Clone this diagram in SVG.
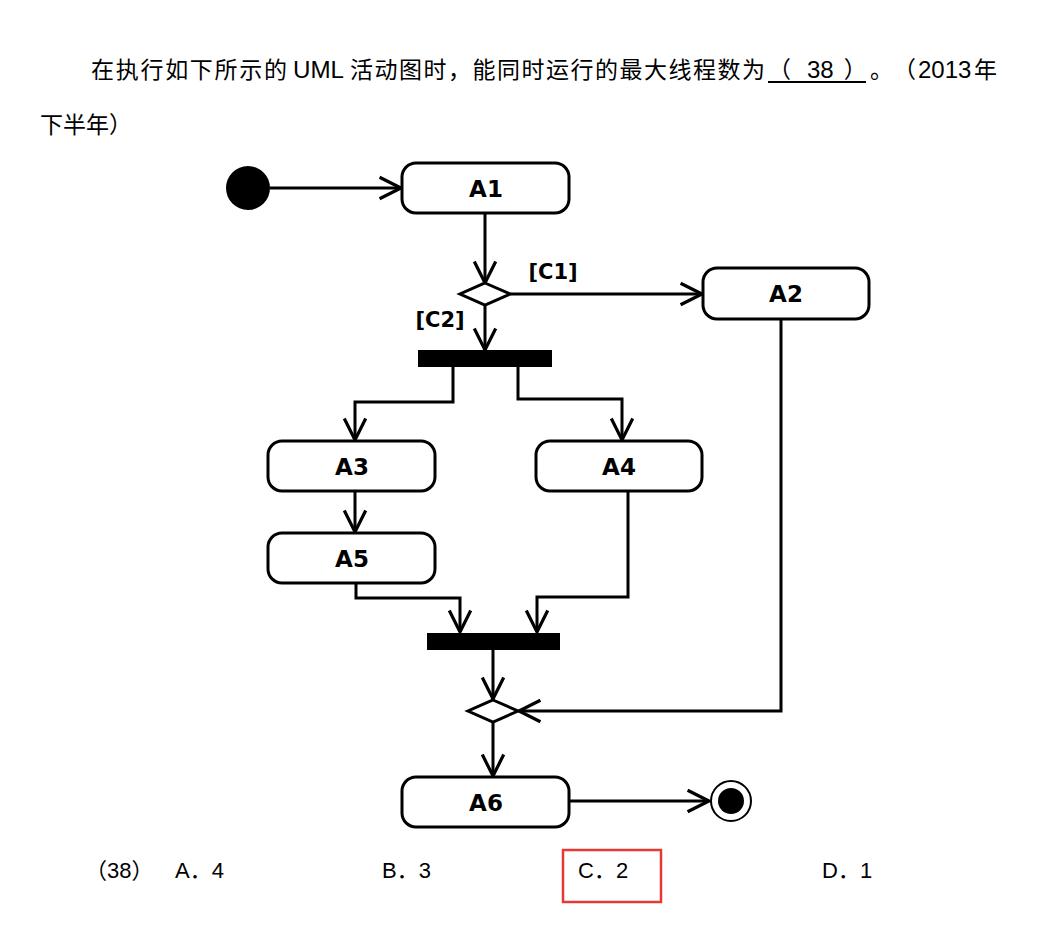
<svg xmlns="http://www.w3.org/2000/svg" width="1060" height="931" viewBox="0 0 1060 931">
<style>
.t{font-family:"Liberation Sans","Noto Sans CJK SC",sans-serif;font-size:22px;fill:#000}
.h{font-family:"Noto Sans CJK SC",sans-serif;font-size:23px;fill:#000}
.hl{font-family:"Liberation Sans",sans-serif;font-size:24px;fill:#000}
.node{fill:#fff;stroke:#000;stroke-width:3}
.lbl{font-family:"DejaVu Sans","Liberation Sans",sans-serif;font-size:23px;font-weight:bold;fill:#000;text-anchor:middle}
.g{font-family:"DejaVu Sans","Liberation Sans",sans-serif;font-size:21px;font-weight:bold;fill:#000;text-anchor:middle}
.c{fill:none;stroke:#000;stroke-width:3;marker-end:url(#arr)}
.bar{fill:#000}
</style>
<defs>
<marker id="arr" markerUnits="userSpaceOnUse" markerWidth="30" markerHeight="30" viewBox="-24 -14 28 28" refX="0" refY="0" orient="auto">
<path d="M-20,-10 L0,0 L-20,10" fill="none" stroke="#000" stroke-width="3"/>
</marker>
</defs>
<rect width="1060" height="931" fill="#fff"/>
<g id="question">
<text class="h" x="91" y="78"><tspan textLength="196" lengthAdjust="spacing">在执行如下所示的</tspan><tspan class="hl" x="293" textLength="51" lengthAdjust="spacingAndGlyphs">UML</tspan><tspan x="350" textLength="415" lengthAdjust="spacing">活动图时，能同时运行的最大线程数为</tspan><tspan x="768">（</tspan><tspan class="hl" dx="16">38</tspan><tspan dx="10">）</tspan><tspan x="870">。</tspan><tspan x="893">（</tspan><tspan class="hl" x="918">2013</tspan><tspan x="974">年</tspan></text>
<line x1="768" y1="82" x2="866" y2="82" stroke="#000" stroke-width="2"/>
<text class="h" x="40" y="133">下半年）</text>
</g>
<g id="connectors">
<line class="c" x1="270" y1="188" x2="401" y2="188"/>
<line class="c" x1="485" y1="213" x2="485" y2="283"/>
<line class="c" x1="510" y1="294" x2="702" y2="294"/>
<line class="c" x1="485" y1="305" x2="485" y2="350"/>
<polyline class="c" points="453,367 453,402 355,402 355,440"/>
<polyline class="c" points="518,367 518,399 622,399 622,440"/>
<line class="c" x1="355" y1="491" x2="355" y2="532"/>
<polyline class="c" points="356,583 356,598 460,598 460,632"/>
<polyline class="c" points="628,491 628,597 537,597 537,632"/>
<line class="c" x1="493" y1="650" x2="493" y2="699"/>
<polyline class="c" points="781,319 781,711 519,711"/>
<line class="c" x1="493" y1="722" x2="493" y2="776"/>
<line class="c" x1="569" y1="801" x2="709" y2="801"/>
<text class="g" x="553" y="279">[C1]</text>
<text class="g" x="440" y="327">[C2]</text>
</g>
<g id="start"><circle cx="248" cy="188" r="22" fill="#000"/></g>
<g id="A1"><rect class="node" x="402" y="163" width="167" height="50" rx="14"/><text class="lbl" x="486" y="197">A1</text></g>
<g id="decision1"><polygon class="node" points="485,283 510,294 485,305 460,294"/></g>
<g id="A2"><rect class="node" x="703" y="268" width="166" height="51" rx="14"/><text class="lbl" x="786" y="302">A2</text></g>
<g id="fork"><rect class="bar" x="418" y="350" width="134" height="17"/></g>
<g id="A3"><rect class="node" x="268" y="441" width="167" height="50" rx="14"/><text class="lbl" x="352" y="475">A3</text></g>
<g id="A4"><rect class="node" x="536" y="441" width="166" height="50" rx="14"/><text class="lbl" x="619" y="475">A4</text></g>
<g id="A5"><rect class="node" x="268" y="533" width="167" height="50" rx="14"/><text class="lbl" x="352" y="567">A5</text></g>
<g id="join"><rect class="bar" x="427" y="633" width="133" height="17"/></g>
<g id="merge"><polygon class="node" points="493,700 518,711 493,722 468,711"/></g>
<g id="A6"><rect class="node" x="402" y="777" width="167" height="50" rx="14"/><text class="lbl" x="486" y="811">A6</text></g>
<g id="end"><circle cx="731" cy="801" r="20" fill="#fff" stroke="#000" stroke-width="2"/><circle cx="731" cy="801" r="13" fill="#000"/></g>
<g id="options">
<text class="t" x="85" y="878">（38）</text>
<text class="t" x="175" y="878">A．4</text>
<text class="t" x="382" y="878">B．3</text>
<text class="t" x="578" y="878">C．2</text>
<text class="t" x="822" y="878">D．1</text>
<rect x="563" y="850" width="98" height="52" fill="none" stroke="#e53935" stroke-width="2.5"/>
</g>
</svg>
